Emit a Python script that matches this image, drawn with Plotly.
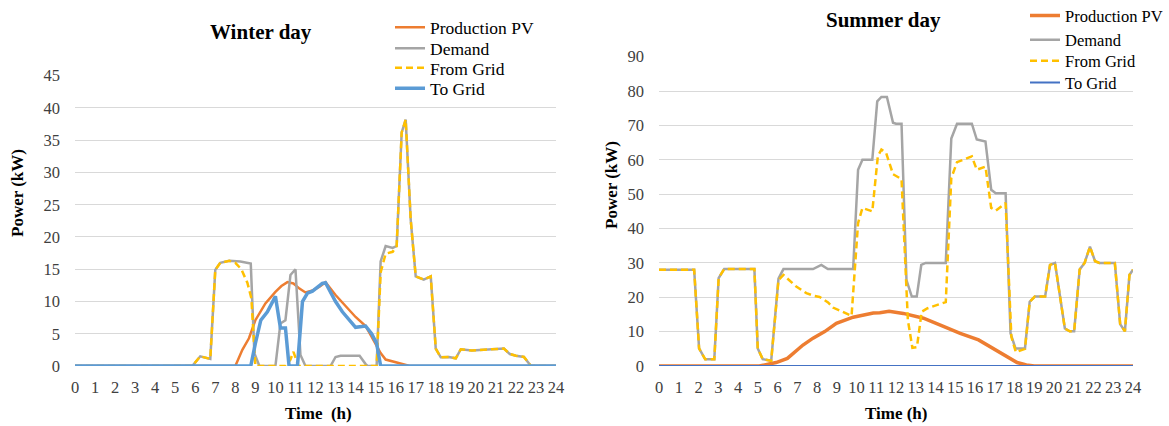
import plotly.graph_objects as go

W, H = 1169, 426

# ---------------- Winter day data (time in h, power in kW) ----------------
w_pv_t = [0, 8.0, 8.35, 8.68, 9.0, 9.5, 10.0, 10.3, 10.6, 10.9, 11.2, 11.5, 11.85, 12.2, 12.5,
          13.0, 13.5, 14.0, 14.5, 15.0, 15.25, 15.5, 16.0, 16.5, 16.7, 24]
w_pv_v = [0, 0, 2.5, 4.3, 7.1, 9.7, 11.5, 12.4, 13.0, 12.8, 12.0, 11.4, 11.7, 12.3, 13.0,
          11.0, 9.3, 7.6, 6.2, 3.5, 2.0, 1.0, 0.6, 0.2, 0, 0]

w_dem_t = [0, 5.85, 6.25, 6.75, 7.0, 7.25, 7.7, 8.25, 8.77, 8.95, 9.2, 10.0, 10.25, 10.5, 10.75,
           11.0, 11.25, 11.5, 12.75, 13.0, 13.25, 13.75, 14.0, 14.2, 14.5, 14.6, 15.05, 15.25,
           15.5, 15.85, 16.05, 16.3, 16.5, 16.75, 17.0, 17.4, 17.75, 18.0, 18.25, 18.65, 19.0,
           19.25, 19.8, 20.3, 20.8, 21.4, 21.7, 22.0, 22.4, 22.75, 24]
w_dem_v = [0, 0, 1.5, 1.1, 14.9, 16.0, 16.3, 16.2, 15.9, 2.0, 0, 0, 6.6, 7.1, 14.1,
           15.0, 1.7, 0, 0, 1.4, 1.6, 1.6, 1.5, 1.6, 0.3, 0, 0, 16.2,
           18.6, 18.3, 18.6, 36.2, 38.2, 22.7, 13.9, 13.4, 13.9, 2.7, 1.35, 1.4, 1.2,
           2.6, 2.4, 2.5, 2.5, 2.7, 1.85, 1.6, 1.4, 0, 0]

w_from_t = [0, 5.85, 6.25, 6.75, 7.0, 7.25, 7.7, 8.0, 8.3, 8.6, 8.8, 9.0, 10.5, 10.75, 10.9,
            11.15, 15.05, 15.25, 15.5, 15.85, 16.05, 16.3, 16.5, 16.75, 17.0, 17.4, 17.75,
            18.0, 18.25, 18.65, 19.0, 19.25, 19.8, 20.3, 20.8, 21.4, 21.7, 22.0, 22.4, 22.75, 24]
w_from_v = [0, 0, 1.5, 1.1, 14.9, 16.0, 16.3, 16.0, 15.0, 12.9, 10.5, 0, 0, 1.0, 2.2,
            0, 0, 14.5, 17.4, 17.7, 18.6, 36.2, 38.2, 22.7, 13.9, 13.4, 13.9,
            2.7, 1.35, 1.4, 1.2, 2.6, 2.4, 2.5, 2.5, 2.7, 1.85, 1.6, 1.4, 0, 0]

w_to_t = [0, 8.77, 9.0, 9.27, 9.6, 10.0, 10.25, 10.5, 10.68, 11.1, 11.35, 11.6, 11.85, 12.34,
          12.5, 13.0, 13.34, 14.0, 14.5, 14.8, 15.05, 15.25, 24]
w_to_v = [0, 0, 3.5, 7.1, 8.4, 10.8, 5.9, 5.9, 0, 0, 10.0, 11.3, 11.6, 12.8,
          12.9, 10.0, 8.4, 6.0, 6.2, 5.0, 3.5, 0, 0]

# ---------------- Summer day data ----------------
s_pv_t = [0, 5.08, 5.93, 6.5, 7.29, 7.8, 8.39, 8.98, 9.83, 10.34, 10.85, 11.18, 11.65, 12.37,
          13.39, 14.4, 15.25, 16.18, 16.95, 17.63, 18.13, 18.6, 19.0, 24]
s_pv_v = [0, 0, 1.0, 2.2, 6.1, 8.1, 10.0, 12.4, 14.2, 14.9, 15.4, 15.5, 15.9, 15.3,
          13.9, 11.5, 9.5, 7.6, 4.9, 2.7, 1.0, 0.3, 0, 0]

s_dem_t = [0, 1.78, 2.03, 2.34, 2.8, 3.02, 3.3, 4.83, 5.0, 5.25, 5.68, 6.05, 6.3, 7.8, 8.22,
           8.55, 9.83, 10.08, 10.3, 10.8, 11.05, 11.26, 11.54, 11.85, 12.0, 12.28, 12.53,
           12.8, 13.05, 13.28, 13.5, 14.52, 14.8, 15.09, 15.84, 16.09, 16.53, 16.82, 17.05,
           17.55, 17.8, 18.05, 18.53, 18.77, 19.03, 19.55, 19.8, 20.05, 20.55, 20.8, 21.02,
           21.3, 21.55, 21.82, 22.08, 22.3, 23.08, 23.35, 23.59, 23.82, 24]
s_dem_v = [28, 28, 5.1, 1.95, 1.95, 25.6, 28.2, 28.2, 5.1, 2.0, 1.5, 25.4, 28.2, 28.2, 29.4,
           28.2, 28.2, 57.1, 60, 60, 77, 78.3, 78.3, 70.8, 70.5, 70.5, 25,
           20.2, 20.2, 29.4, 30, 30, 66.2, 70.5, 70.5, 65.9, 65.3, 51.3, 50.3,
           50.3, 9.5, 5.1, 5.1, 18.7, 20.2, 20.2, 29.4, 30, 10.9, 10.1, 10.1,
           28.1, 30, 34.7, 30.5, 30, 30, 12.2, 10.1, 26.5, 28]

s_from_t = [0, 1.78, 2.03, 2.34, 2.8, 3.02, 3.3, 4.83, 5.0, 5.25, 5.68, 6.05, 6.3, 6.95, 7.46,
            7.8, 8.13, 8.56, 8.81, 9.32, 9.75, 10.08, 10.3, 10.8, 11.08, 11.26, 11.5, 11.85,
            12.28, 12.6, 12.83, 13.06, 13.3, 13.6, 14.52, 14.8, 15.09, 15.84, 16.09, 16.53,
            16.82, 17.05, 17.55, 17.84, 18.07, 18.53, 18.77, 19.03, 19.55, 19.8, 20.05, 20.55,
            20.8, 21.02, 21.3, 21.55, 21.82, 22.08, 22.3, 23.08, 23.35, 23.59, 23.82, 24]
s_from_v = [28, 28, 5.1, 1.95, 1.95, 25.6, 28.2, 28.2, 5.1, 2.0, 1.5, 25.0, 26.5, 23.1, 21.2,
            20.5, 20.1, 18.5, 17.0, 15.8, 14.6, 41.6, 46, 45, 61, 63, 62, 55.8,
            54.4, 13.4, 5.3, 5.5, 15.8, 16.8, 18.6, 54.7, 59.3, 61, 57.1, 58,
            46, 45.2, 47.4, 8.5, 4.0, 5.0, 18.7, 20.2, 20.2, 29.4, 30, 10.9,
            10.1, 10.1, 28.1, 30, 34.7, 30.5, 30, 30, 12.2, 10.1, 26.5, 28]

s_to_t = [0, 24]
s_to_v = [0, 0]

hours = list(range(0, 25))
names = ["Production PV", "Demand", "From Grid", "To Grid"]

ORANGE = "#ED7D31"
GRAY = "#A5A5A5"
YELLOW = "#FFC000"
BLUE_W = "#5B9BD5"
BLUE_S = "#4472C4"
FONT = "Liberation Serif, Times New Roman, serif"


def px_x(p):
    return p / W


def px_y(p):
    return 1 - p / H


fig = go.Figure()

# each legend entry gets its own legend box so rows can be placed like the original
legend_rows = {
    "legend": (390, 27.3, 17.5), "legend2": (390, 48.3, 17.5),
    "legend3": (390, 67.8, 17.5), "legend4": (390, 88.3, 17.5),
    "legend5": (1025, 15.7, 16.5), "legend6": (1025, 40.0, 16.5),
    "legend7": (1025, 61.0, 16.5), "legend8": (1025, 82.7, 16.5),
}


def add(t, v, name, color, width, dash, xa, ya, legend):
    fig.add_trace(go.Scatter(
        x=t, y=v, mode="lines", name=name, xaxis=xa, yaxis=ya, legend=legend,
        line=dict(color=color, width=width, dash=dash), hoverinfo="skip"))


add(w_pv_t, w_pv_v, names[0], ORANGE, 2.5, "solid", "x", "y", "legend")
add(w_dem_t, w_dem_v, names[1], GRAY, 2.5, "solid", "x", "y", "legend2")
add(w_from_t, w_from_v, names[2], YELLOW, 2.5, "7px,4px", "x", "y", "legend3")
add(w_to_t, w_to_v, names[3], BLUE_W, 3.5, "solid", "x", "y", "legend4")

add(s_pv_t, s_pv_v, names[0], ORANGE, 3.5, "solid", "x2", "y2", "legend5")
add(s_dem_t, s_dem_v, names[1], GRAY, 2.5, "solid", "x2", "y2", "legend6")
add(s_from_t, s_from_v, names[2], YELLOW, 2.5, "7px,4px", "x2", "y2", "legend7")
add(s_to_t, s_to_v, names[3], BLUE_S, 2, "solid", "x2", "y2", "legend8")

tickfont = dict(family=FONT, size=16.5, color="#404040")
xcommon = dict(tickmode="array", tickvals=hours, ticktext=[str(h) for h in hours],
               showgrid=False, zeroline=False, showline=False, ticks="",
               tickfont=tickfont, ticklabelstandoff=9, fixedrange=True, automargin=False)
ycommon = dict(showgrid=True, gridcolor="#D9D9D9", gridwidth=1, zeroline=False,
               showline=False, ticks="", tickfont=tickfont, ticklabelstandoff=14,
               fixedrange=True, automargin=False)

layout = dict(
    width=W, height=H, autosize=False,
    margin=dict(l=0, r=0, t=0, b=0, pad=0, autoexpand=False),
    paper_bgcolor="white", plot_bgcolor="white",
    font=dict(family=FONT, color="black"),
    xaxis=dict(domain=[px_x(75), px_x(556)], range=[0, 24], anchor="y", **xcommon),
    yaxis=dict(domain=[px_y(366), px_y(75.7)], range=[0, 45], dtick=5, anchor="x", **ycommon),
    xaxis2=dict(domain=[px_x(659), px_x(1133)], range=[0, 24], anchor="y2", **xcommon),
    yaxis2=dict(domain=[px_y(366), px_y(56.7)], range=[0, 90], dtick=10, anchor="x2", **ycommon),
    showlegend=True,
)
for key, (lx, ly, fs) in legend_rows.items():
    layout[key] = dict(x=px_x(lx), y=px_y(ly), xanchor="left", yanchor="middle",
                       bgcolor="rgba(0,0,0,0)", borderwidth=0,
                       font=dict(family=FONT, size=fs, color="black"))
fig.update_layout(**layout)

# white legend backgrounds hiding the gridlines behind the legends (between grid and traces)
for x0, x1, y0, y1 in [(392, 546, 8, 100), (1025, W, 0, 70), (1055, W, 70, 95)]:
    fig.add_shape(type="rect", xref="paper", yref="paper", layer="between",
                  x0=px_x(x0), x1=px_x(x1), y0=px_y(y1), y1=px_y(y0),
                  fillcolor="white", line=dict(width=0))

annots = [
    dict(text="<b>Winter day</b>", x=px_x(261), y=px_y(32), size=21, angle=0),
    dict(text="<b>Summer day</b>", x=px_x(883), y=px_y(20), size=21, angle=0),
    dict(text="<b>Power (kW)</b>", x=px_x(17), y=px_y(193), size=17, angle=-90),
    dict(text="<b>Power (kW)</b>", x=px_x(612), y=px_y(185), size=17, angle=-90),
    dict(text="<b>Time \u00a0(h)</b>", x=px_x(318), y=px_y(413), size=17, angle=0),
    dict(text="<b>Time (h)</b>", x=px_x(896), y=px_y(413), size=17, angle=0),
]
for a in annots:
    fig.add_annotation(text=a["text"], x=a["x"], y=a["y"], xref="paper", yref="paper",
                       xanchor="center", yanchor="middle", showarrow=False, textangle=a["angle"],
                       font=dict(family=FONT, size=a["size"], color="black"))

fig.write_html("out.html")
